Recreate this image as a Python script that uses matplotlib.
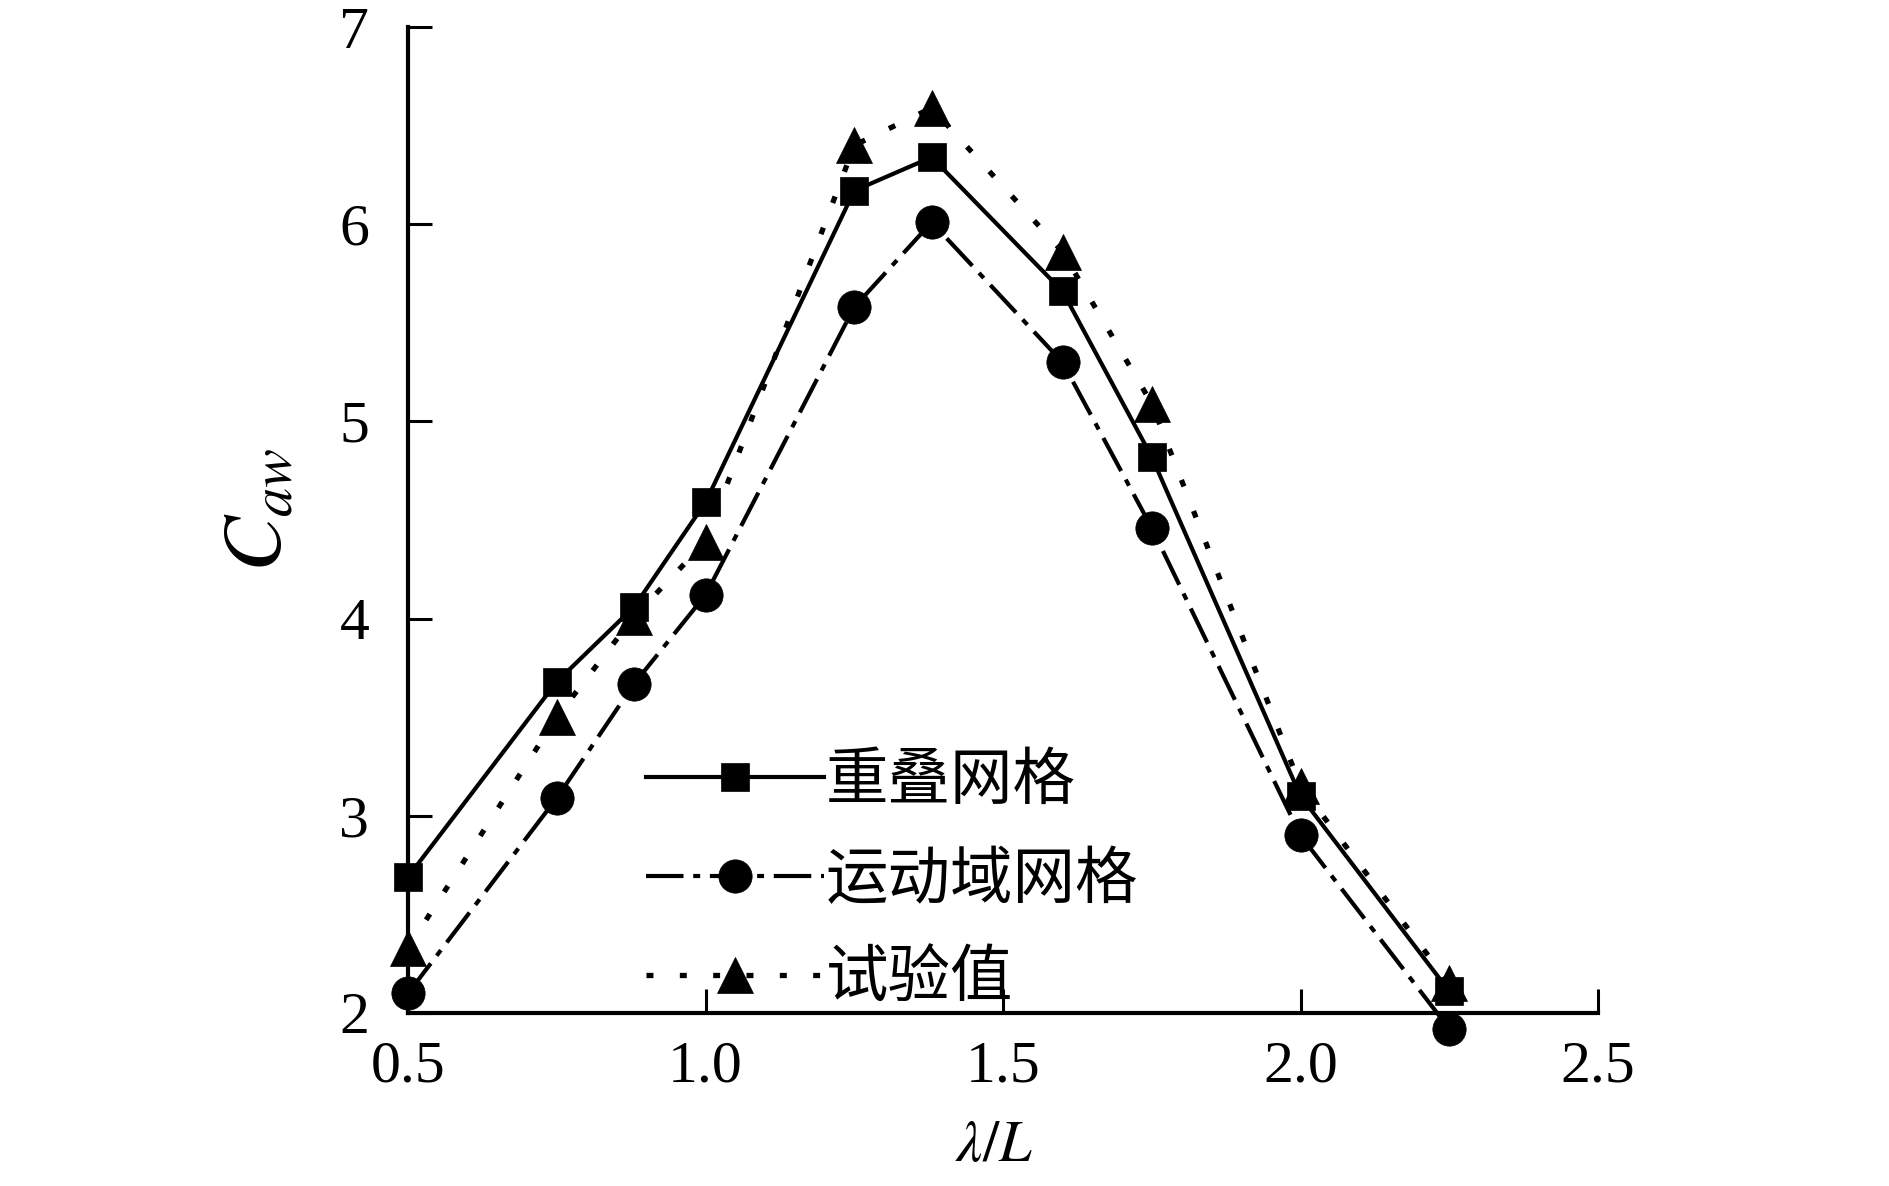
import matplotlib
matplotlib.use("Agg")
import matplotlib.pyplot as plt
from matplotlib.ticker import FixedLocator, FixedFormatter

# ---- data ----
x_vals = [0.5, 0.75, 0.88, 1.0, 1.25, 1.38, 1.6, 1.75, 2.0, 2.25]
overlap_grid = [2.69, 3.68, 4.06, 4.59, 6.17, 6.34, 5.66, 4.82, 3.10, 2.11]   # 重叠网格
moving_grid = [2.10, 3.09, 3.67, 4.12, 5.58, 6.01, 5.30, 4.46, 2.90, 1.92]    # 运动域网格
experiment = [2.33, 3.50, 4.01, 4.39, 6.40, 6.59, 5.86, 5.09, 3.15, 2.15]     # 试验值
series_labels = ["重叠网格", "运动域网格", "试验值"]
x_ticks = [0.5, 1.0, 1.5, 2.0, 2.5]
x_ticklabels = ["0.5", "1.0", "1.5", "2.0", "2.5"]
y_ticks = [2, 3, 4, 5, 6, 7]
y_ticklabels = ["2", "3", "4", "5", "6", "7"]

plt.rcParams["mathtext.fontset"] = "stix"
plt.rcParams["lines.scale_dashes"] = False

fig = plt.figure(figsize=(18.9, 11.86), dpi=100)
ax = fig.add_axes([0.2159, 0.1459, 0.6296, 0.8313])

l1, = ax.plot(x_vals, overlap_grid, color="black", lw=3.0, linestyle="-",
              marker="s", ms=20, mew=0.5, clip_on=False, zorder=3)
l2, = ax.plot(x_vals, moving_grid, color="black", lw=3.0,
              linestyle=(0, (27, 7, 5, 7)), dash_capstyle="butt",
              marker="o", ms=24, mew=0.5, clip_on=False, zorder=3)
l3, = ax.plot(x_vals, experiment, color="black", lw=3.8,
              linestyle=(0, (5, 19)), dash_capstyle="butt",
              marker="^", ms=26, mew=0.5, clip_on=False, zorder=3)

ax.set_xlim(0.5, 2.5)
ax.set_ylim(2, 7)

for s in ["top", "right"]:
    ax.spines[s].set_visible(False)
for s in ["left", "bottom"]:
    ax.spines[s].set_linewidth(3)

ax.xaxis.set_major_locator(FixedLocator(x_ticks))
ax.xaxis.set_major_formatter(FixedFormatter(x_ticklabels))
ax.yaxis.set_major_locator(FixedLocator(y_ticks))
ax.yaxis.set_major_formatter(FixedFormatter(y_ticklabels))

ax.tick_params(axis="both", direction="in", length=17, width=2.2)
ax.tick_params(axis="x", pad=20)
ax.tick_params(axis="y", pad=28)
for lab in ax.get_xticklabels() + ax.get_yticklabels():
    lab.set_fontfamily("Liberation Serif")
    lab.set_fontsize(43)

ax.set_xlabel(r"$\lambda/L$", fontsize=42)
ax.xaxis.set_label_coords(0.4925, -0.105)
ax.set_ylabel(r"$C_{aw}$", fontsize=60)
ax.yaxis.set_label_coords(-0.093, 0.51)

leg = ax.legend([l1, l2, l3], series_labels, loc="center left",
                bbox_to_anchor=(0.2, 0.135), frameon=False,
                borderaxespad=0, borderpad=0, handlelength=2.85,
                handletextpad=0.02, labelspacing=0.56,
                prop={"family": ["Noto Sans CJK SC", "DejaVu Sans"], "size": 45})

fig.savefig("out.png", dpi=100, facecolor="white")
